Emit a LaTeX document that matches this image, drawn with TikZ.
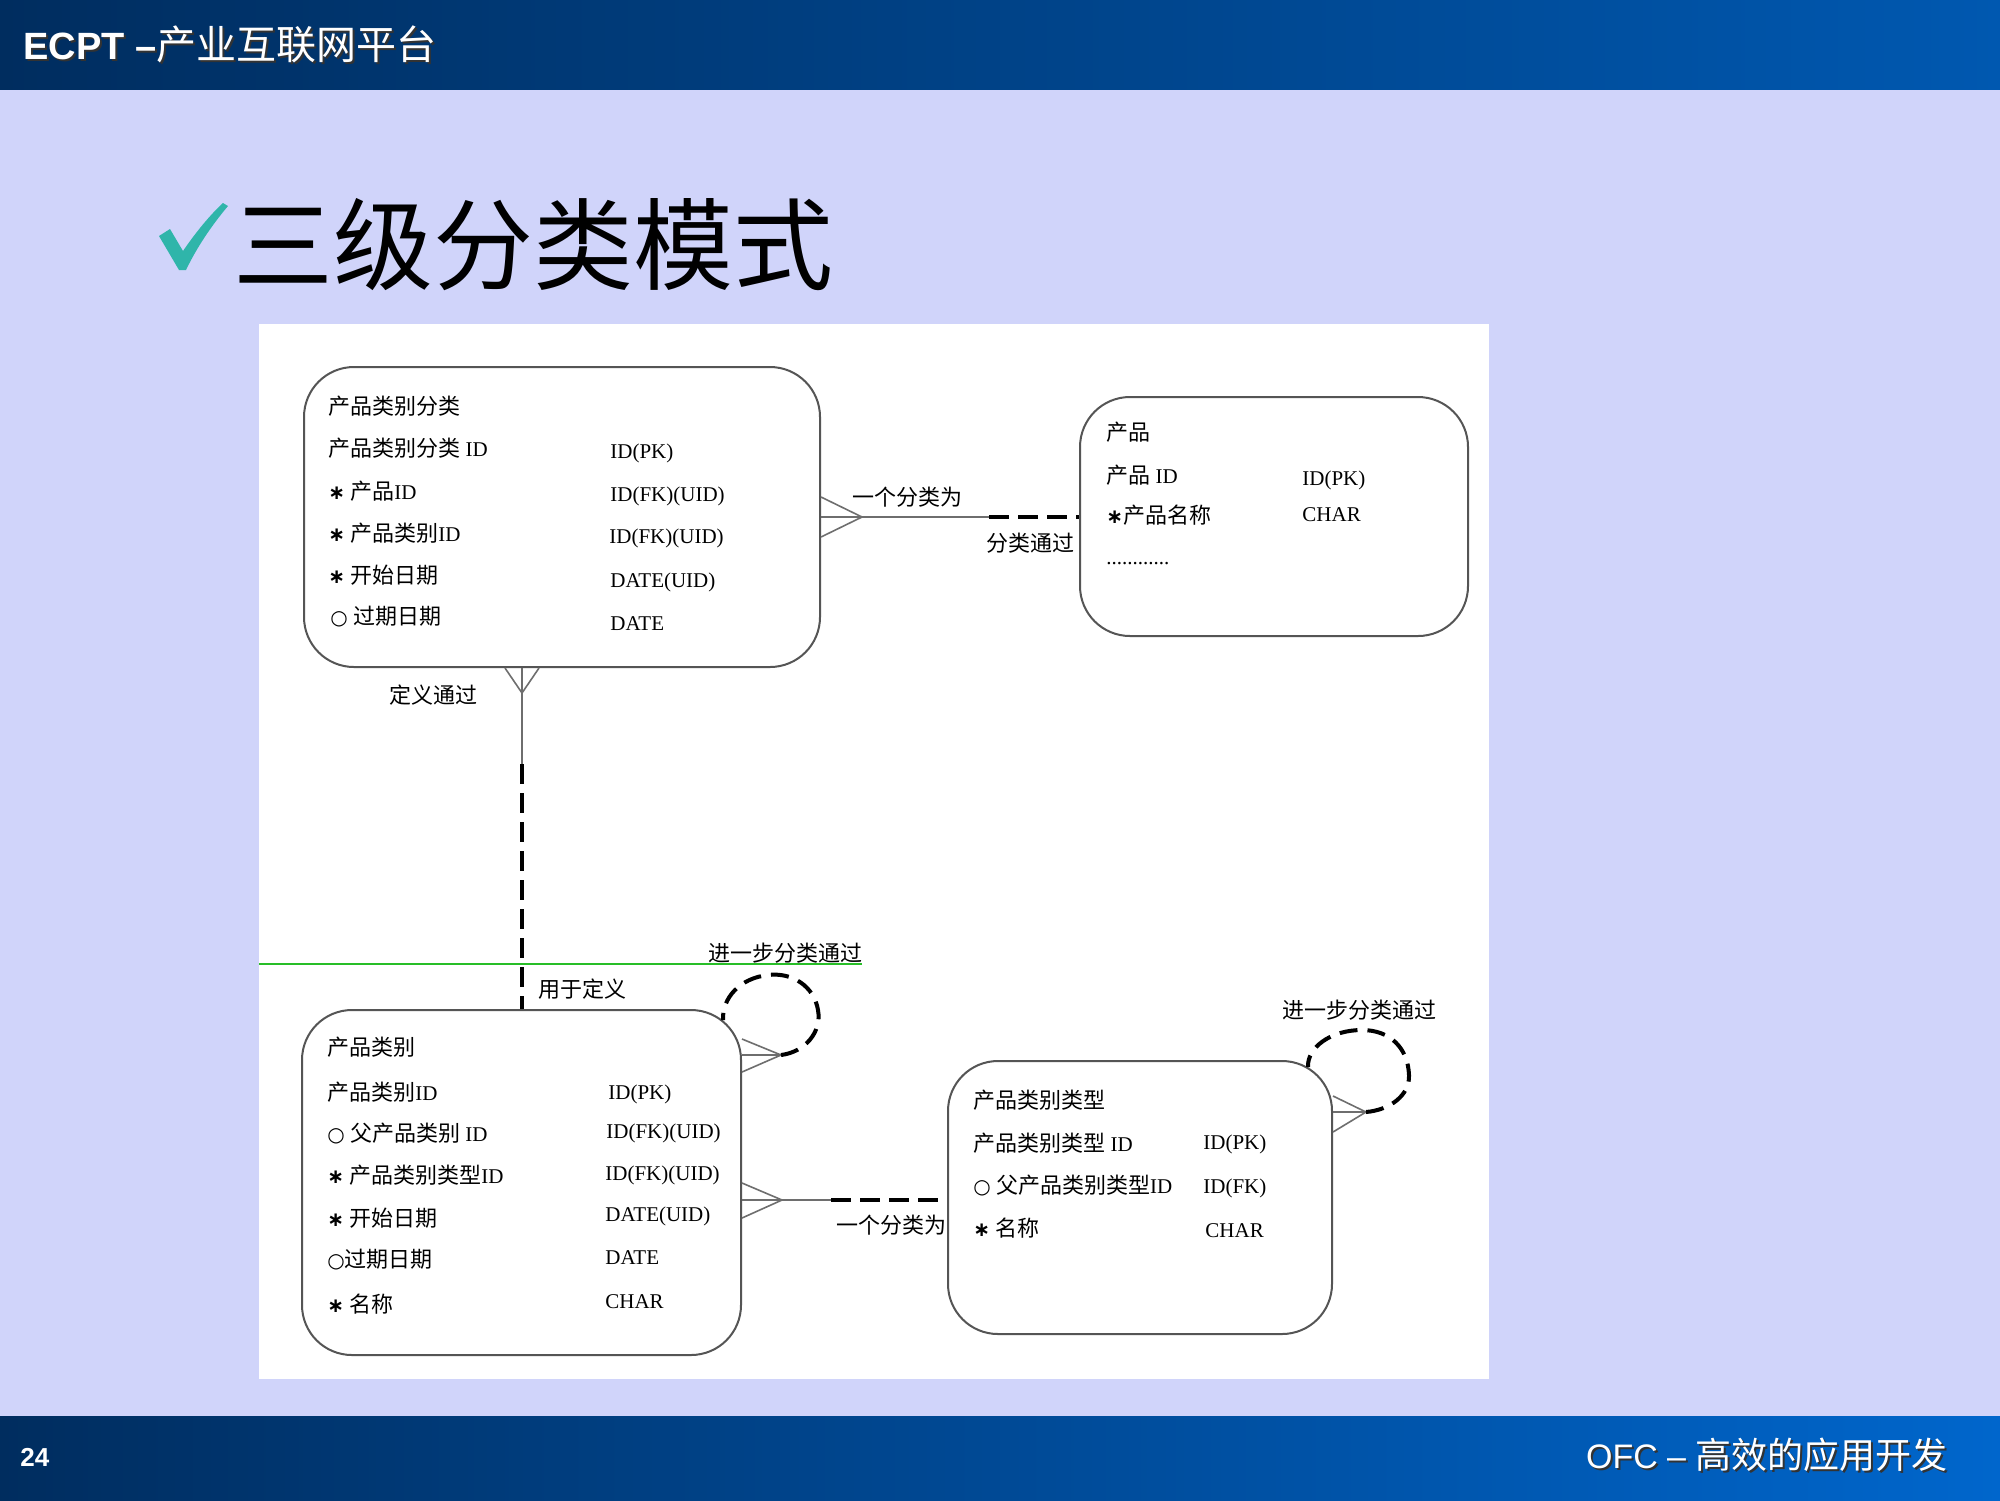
\documentclass[tikz,border=0pt]{standalone}
\usepackage{fontspec}
\setmainfont{Liberation Serif}
\newfontfamily\cjk{Noto Sans CJK SC}
\newfontfamily\hsans{Liberation Sans}
\newfontfamily\symf{DejaVu Sans}
\usetikzlibrary{calc}
\definecolor{bg}{RGB}{208,212,250}
\definecolor{navyL}{RGB}{0,45,95}
\definecolor{navyR}{RGB}{0,88,176}
\definecolor{footR}{RGB}{0,102,204}
\definecolor{tealc}{RGB}{47,181,170}
\definecolor{boxline}{RGB}{85,85,85}
\definecolor{linegray}{RGB}{110,110,110}
\definecolor{grn}{RGB}{40,190,40}
\newcommand\zh[1]{{\cjk\fontsize{11pt}{13pt}\selectfont #1}}
\newcommand\opt{{\symf\fontsize{10pt}{12pt}\selectfont ○}}
\newcommand\req{{\symf\bfseries\fontsize{10pt}{12pt}\selectfont ∗}}
\begin{document}
\begin{tikzpicture}[x=0.5pt,y=-0.5pt,
  ent/.style={draw=boxline,line width=1pt,rounded corners=25pt,fill=white,inner sep=0pt},
  txt/.style={anchor=west,inner sep=0pt,font=\fontsize{10.5pt}{12pt}\selectfont},
  lbl/.style={anchor=west,inner sep=0pt,font=\cjk\fontsize{11pt}{13pt}\selectfont},
  rel/.style={draw=linegray,line width=0.8pt},
  reldash/.style={draw=black,line width=2pt,dash pattern=on 10pt off 4.5pt},
  loopdash/.style={draw=black,line width=2pt,dash pattern=on 9pt off 5pt},
]
\useasboundingbox (0,0) rectangle (2000,1500);
\fill[bg] (0,0) rectangle (2000,1500);
% header and footer bars
\shade[left color=navyL,right color=navyR] (0,0) rectangle (2000,89);
\shade[left color=navyL,right color=footR] (0,1416) rectangle (2000,1500);
\node[anchor=west,inner sep=0pt,text=black!80] (hdrs) at (25,46)
  {{\hsans\bfseries\fontsize{19pt}{22pt}\selectfont ECPT –}{\cjk\fontsize{20pt}{24pt}\selectfont 产业互联网平台}};
\node[anchor=west,inner sep=0pt,text=white] (hdr) at (23,44)
  {{\hsans\bfseries\fontsize{19pt}{22pt}\selectfont ECPT –}{\cjk\fontsize{20pt}{24pt}\selectfont 产业互联网平台}};
\node[anchor=west,inner sep=0pt,text=white,font=\hsans\bfseries\fontsize{13pt}{15pt}\selectfont] (pg) at (20,1457) {24};
\node[anchor=east,inner sep=0pt,text=black!80] (ftrs) at (1950,1457)
  {{\hsans\fontsize{17pt}{20pt}\selectfont OFC – }{\cjk\fontsize{18pt}{22pt}\selectfont 高效的应用开发}};
\node[anchor=east,inner sep=0pt,text=white] (ftr) at (1948,1455)
  {{\hsans\fontsize{17pt}{20pt}\selectfont OFC – }{\cjk\fontsize{18pt}{22pt}\selectfont 高效的应用开发}};
% title with check mark
\fill[tealc] (159,236) -- (170,229) -- (183,251) .. controls (196,232) and (210,215) .. (223,203) -- (228,206)
  .. controls (212,225) and (197,247) .. (186,270) -- (179,270) -- cycle;
\node[anchor=west,inner sep=0pt,font=\cjk\fontsize{50pt}{56pt}\selectfont] (title) at (233,245) {三级分类模式};
% white panel
\fill[white] (259,324) rectangle (1489,1379);
% green line
\draw[grn,line width=1.2pt] (259,964) -- (862,964);
% entities
\node[ent,minimum width=258pt,minimum height=150pt] (b1) at (562,517) {};
\node[ent,minimum width=194pt,minimum height=119.5pt] (b2) at (1274,516.5) {};
\node[ent,minimum width=219.5pt,minimum height=172.5pt] (b3) at (521.5,1182.5) {};
\node[ent,minimum width=192pt,minimum height=136.5pt] (b4) at (1140,1197.5) {};
% box 1 text
\node[txt] (b1t0) at (328,406) {\zh{产品类别分类}};
\node[txt] (b1t1) at (328,448) {\zh{产品类别分类} ID};
\node[txt] (b1t2) at (328,491) {\req\ \zh{产品}ID};
\node[txt] (b1t3) at (328,533) {\req\ \zh{产品类别}ID};
\node[txt] (b1t4) at (328,575) {\req\ \zh{开始日期}};
\node[txt] (b1t5) at (330,617) {\opt\ \zh{过期日期}};
\node[txt] (b1r1) at (610,453) {ID(PK)};
\node[txt] (b1r2) at (610,496) {ID(FK)(UID)};
\node[txt] (b1r3) at (609,538) {ID(FK)(UID)};
\node[txt] (b1r4) at (610,582) {DATE(UID)};
\node[txt] (b1r5) at (610,624) {DATE};
% box 2 text
\node[txt] (b2t0) at (1106,432) {\zh{产品}};
\node[txt] (b2t1) at (1106,475) {\zh{产品} ID};
\node[txt] (b2t2) at (1106,515) {\req\zh{产品名称}};
\node[txt] (b2t3) at (1106,564) {............};
\node[txt] (b2r1) at (1302,480) {ID(PK)};
\node[txt] (b2r2) at (1302,515) {CHAR};
% box 3 text
\node[txt] (b3t0) at (327,1047) {\zh{产品类别}};
\node[txt] (b3t1) at (327,1092) {\zh{产品类别}ID};
\node[txt] (b3t2) at (327,1133) {\opt\ \zh{父产品类别} ID};
\node[txt] (b3t3) at (327,1175) {\req\ \zh{产品类别类型}ID};
\node[txt] (b3t4) at (327,1218) {\req\ \zh{开始日期}};
\node[txt] (b3t5) at (327,1260) {\opt\zh{过期日期}};
\node[txt] (b3t6) at (327,1304) {\req\ \zh{名称}};
\node[txt] (b3r1) at (608,1094) {ID(PK)};
\node[txt] (b3r2) at (606,1133) {ID(FK)(UID)};
\node[txt] (b3r3) at (605,1175) {ID(FK)(UID)};
\node[txt] (b3r4) at (605,1216) {DATE(UID)};
\node[txt] (b3r5) at (605,1258) {DATE};
\node[txt] (b3r6) at (605,1302) {CHAR};
% box 4 text
\node[txt] (b4t0) at (973,1100) {\zh{产品类别类型}};
\node[txt] (b4t1) at (973,1143) {\zh{产品类别类型} ID};
\node[txt] (b4t2) at (973,1185) {\opt\ \zh{父产品类别类型}ID};
\node[txt] (b4t3) at (973,1228) {\req\ \zh{名称}};
\node[txt] (b4r1) at (1203,1144) {ID(PK)};
\node[txt] (b4r2) at (1203,1188) {ID(FK)};
\node[txt] (b4r3) at (1205,1231) {CHAR};
% relation b1 - b2
\coordinate (c1) at (b1.east);
\coordinate (c1a) at ($(c1)+(41,0)$);
\coordinate (c1s) at ($(c1)+(168,0)$);
\draw[rel] ($(c1)+(0,-20)$) -- (c1a) -- ($(c1)+(0,20)$);
\draw[rel] (c1) -- (c1s);
\draw[reldash] (c1s) -- (b2.west |- c1);
\node[lbl] (l1a) at (852,497) {一个分类为};
\node[lbl] (l1b) at (986,543) {分类通过};
% relation b1 - b3
\coordinate (c2) at ($(b1.south)+(-40,0)$);
\coordinate (c2a) at ($(c2)+(0,25)$);
\coordinate (c2s) at ($(c2)+(0,96)$);
\draw[rel] ($(c2)+(-17,0)$) -- (c2a) -- ($(c2)+(17,0)$);
\draw[rel] (c2) -- (c2s);
\draw[reldash] (c2s) -- (b3.north -| c2);
\node[lbl] (l2a) at (389,695) {定义通过};
\node[lbl] (l2b) at (538,989) {用于定义};
% relation b3 - b4
\coordinate (c3) at ($(b3.east)+(0,17.5)$);
\coordinate (c3a) at ($(c3)+(40,0)$);
\coordinate (c3s) at ($(c3)+(89,0)$);
\draw[rel] ($(c3)+(0,-17)$) -- (c3a) -- ($(c3)+(0,18)$);
\draw[rel] (c3) -- (c3s);
\draw[reldash] (c3s) -- (b4.west |- c3);
\node[lbl] (l3a) at (836,1225) {一个分类为};
% self loop b3
\coordinate (l3) at ($(b3.north east)+(0,46)$);
\coordinate (a3) at ($(l3)+(39,0)$);
\coordinate (l3e) at ($(b3.north east)+(-19,11)$);
\draw[rel] ($(l3)+(0,-16)$) -- (a3) -- ($(l3)+(0,17)$);
\draw[rel] (l3) -- (a3);
\draw[loopdash] (a3) .. controls (805,1052) and (822,1032) .. (818,1010)
  .. controls (814,986) and (792,972) .. (768,975)
  .. controls (740,978) and (722,998) .. (l3e);
\node[lbl] (l3b) at (708,953) {进一步分类通过};
% self loop b4
\coordinate (l4) at ($(b4.north east)+(0,52)$);
\coordinate (a4) at ($(l4)+(33,0)$);
\coordinate (l4e) at ($(b4.north east)+(-25,7)$);
\draw[rel] ($(l4)+(0,-16)$) -- (a4) -- ($(l4)+(0,20)$);
\draw[rel] (l4) -- (a4);
\draw[loopdash] (a4) .. controls (1390,1110) and (1410,1095) .. (1409,1075)
  .. controls (1408,1048) and (1390,1030) .. (1362,1030)
  .. controls (1330,1030) and (1307,1048) .. (l4e);
\node[lbl] (l4b) at (1282,1010) {进一步分类通过};
\end{tikzpicture}
\end{document}
